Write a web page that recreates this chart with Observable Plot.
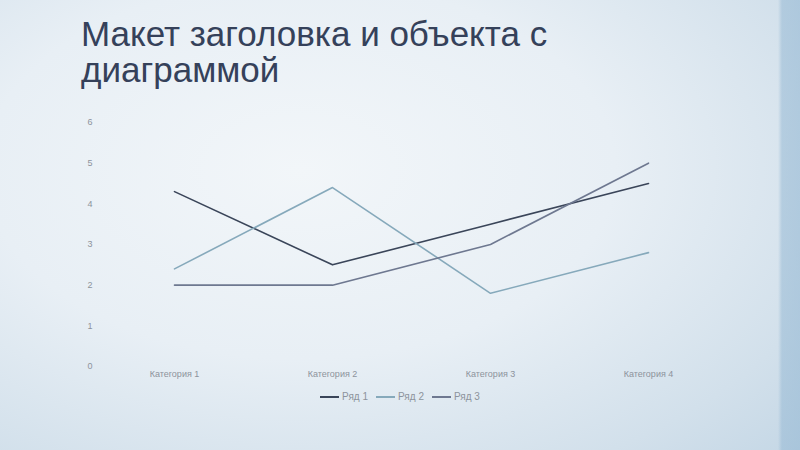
<!DOCTYPE html>
<html><head><meta charset="utf-8">
<script src="https://cdn.jsdelivr.net/npm/d3@7"></script>
<script src="https://cdn.jsdelivr.net/npm/@observablehq/plot@0.6"></script>
<style>
html,body{margin:0;padding:0;}
#page{position:relative;width:800px;height:450px;overflow:hidden;
 background:
  linear-gradient(90deg, rgba(0,0,0,0) 0px, rgba(0,0,0,0) 778px, rgba(150,185,212,0.55) 782px, rgba(150,185,212,0.6) 800px),
  radial-gradient(ellipse 700px 420px at 300px 170px, #f2f6f9 0%, #e8eff5 45%, #d2e0eb 80%, #c3d6e5 100%);
 font-family:"Liberation Sans",Arial,sans-serif;}
#title{position:absolute;left:81px;top:16px;width:500px;font-size:35px;line-height:36px;color:#35415a;}
#chart{position:absolute;left:0;top:100px;}
#legend{position:absolute;left:0;top:391px;width:800px;text-align:center;font-size:10px;color:#8d939c;}
#legend span.item{display:inline-block;margin:0 4px;}
#legend span.sw{display:inline-block;width:19px;height:0;border-top:2px solid;vertical-align:middle;margin-right:3px;}
</style></head>
<body><div id="page">
<div id="title">Макет заголовка и объекта с диаграммой</div>
<div id="chart"></div>
<div id="legend"></div>
</div>
<script>
const categories = ["Категория 1","Категория 2","Категория 3","Категория 4"];
const seriesNames = ["Ряд 1","Ряд 2","Ряд 3"];
const series1 = [4.3, 2.5, 3.5, 4.5];
const series2 = [2.4, 4.4, 1.8, 2.8];
const series3 = [2, 2, 3, 5];
const yTicks = [0,1,2,3,4,5,6];
const colors = ["#3a4559","#86a9bb","#6e7890"];

const allSeries = [series1, series2, series3];
const data = [];
allSeries.forEach((vals, si) => vals.forEach((v, i) => data.push({cat: categories[i], value: v, series: seriesNames[si]})));

const plot = Plot.plot({
  width: 800, height: 285,
  marginTop: 22, marginBottom: 19, marginLeft: 97, marginRight: 60,
  style: {background: "transparent", fontFamily: "Liberation Sans, Arial, sans-serif", fontSize: "9px", color: "#8d939c"},
  x: {type: "point", domain: categories, range: [174, 648], padding: 0, label: null},
  y: {domain: [0, 6], ticks: yTicks, label: null},
  color: {domain: seriesNames, range: colors},
  marks: [
    Plot.axisY({ticks: yTicks, tickFormat: "d", tickSize: 0, tickPadding: 5, label: null, fill: "#8d939c"}),
    Plot.axisX({tickSize: 0, tickPadding: 4, label: null, fill: "#8d939c"}),
    Plot.line(data, {x: "cat", y: "value", z: "series", stroke: "series", strokeWidth: 1.6})
  ]
});
document.getElementById("chart").appendChild(plot);

const lg = document.getElementById("legend");
seriesNames.forEach((n, i) => {
  const it = document.createElement("span"); it.className = "item";
  const sw = document.createElement("span"); sw.className = "sw"; sw.style.borderColor = colors[i];
  it.appendChild(sw); it.appendChild(document.createTextNode(n));
  lg.appendChild(it);
});
</script>
</body></html>
